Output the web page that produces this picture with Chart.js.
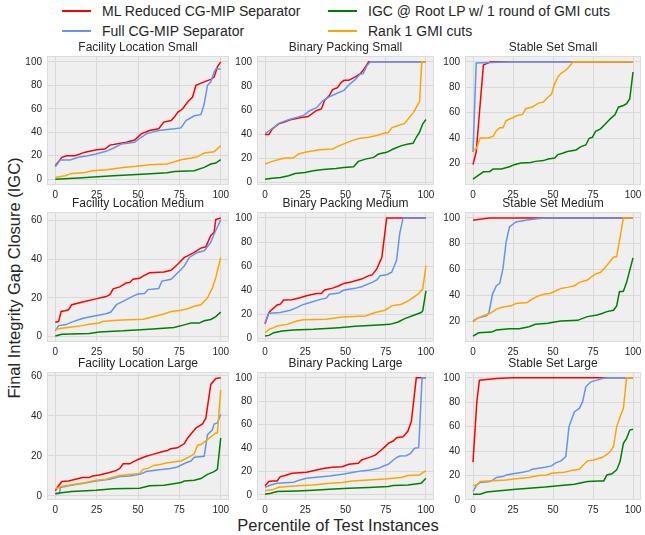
<!DOCTYPE html>
<html>
<head>
<meta charset="utf-8">
<script src="https://cdn.jsdelivr.net/npm/chart.js@4/dist/chart.umd.min.js"></script>
<style>
  body { margin: 0; width: 645px; height: 535px; background: #fff; position: relative; overflow: hidden;
         font-family: Arial, "Liberation Sans", sans-serif; color: #262626; }
  canvas { position: absolute; }
  .key { position: absolute; font-size: 14px; line-height: 16px; white-space: nowrap; transform: translateY(-50%); }
  .key i { display: inline-block; width: 29px; height: 2px; margin-right: 11px; vertical-align: middle; position: relative; top: -1px; }
  .axis-label { position: absolute; font-size: 16.5px; white-space: nowrap; transform: translate(-50%, -50%); }
  #ylabel { transform: translate(-50%, -50%) rotate(-90deg); }
</style>
</head>
<body>
<div id="legend"></div>
<div class="axis-label" id="xlabel" style="left:338px; top:525px;">Percentile of Test Instances</div>
<div class="axis-label" id="ylabel" style="left:14px; top:278px;">Final Integrity Gap Closure (IGC)</div>
<script>
// series: ML reduced separator, full separator, root LP + 1 round GMI, rank-1 GMI
const seriesNames = ['ML Reduced CG-MIP Separator', 'Full CG-MIP Separator', 'IGC @ Root LP w/ 1 round of GMI cuts', 'Rank 1 GMI cuts'];
const seriesColors = ['#ff0000', '#6495ed', '#008000', '#ffa500'];
const xTicks = [0, 25, 50, 75, 100];

// [percentile, IGC] per instance set
const flSmallMl = [[0,11.4],[4,18.6],[7,20],[12,20],[18,23],[25,25],[30,25.7],[33,29],[43,31.4],[48,33.4],[52,38.6],[57,41.4],[62.5,43],[65.6,48.6],[70,50],[72,52.9],[74,57],[77,60],[80,65.7],[83,70],[85,80],[90,82.9],[94,85],[96,87],[98,95.7],[100,100]];
const flSmallFull = [[0,10.6],[3,16.3],[9,16.3],[14,18.6],[19.5,20],[24.6,21.4],[30.7,23.7],[36,27],[40,30],[48,31.4],[52,35.7],[55,38.6],[62.5,41.4],[72,42.9],[76,43.7],[79,50],[84,54],[88,55],[90,64],[92,80],[94,83],[96,91.4],[97,94],[100,94]];
const flSmallRoot = [[0,0],[14,0.9],[35,2.9],[55,4.3],[67.6,5.4],[72,6.6],[84,7.1],[90,10],[94,12.9],[97,13.7],[100,16.6]];
const flSmallRank1 = [[0,1.4],[6,2.9],[10,4.9],[18,5.7],[22.5,7.1],[31,8],[41,10],[49,10.9],[57,12.3],[67.6,12.9],[76,16.6],[85,18.6],[90,22.3],[96,23.4],[100,28.6]];

const bpSmallMl = [[0,39.7],[2.4,39.7],[4.5,44.4],[8.5,48.6],[11.6,50],[15.7,52],[21.7,53.6],[26.8,54.7],[32,59.7],[35,61],[37,68],[40,72],[42,77],[45,78.6],[47,82.5],[49,84.7],[52,84.7],[56,87.5],[59,90],[61,93],[64.4,100],[100,100]];
const bpSmallFull = [[0,40.3],[5.5,45.8],[8.5,49],[14.6,52],[19.7,54],[24,55.6],[28,59.7],[32,62],[36,68],[40,71],[44,73.6],[49,76.4],[53,82],[56,85.3],[59,89.7],[61,90.3],[63.4,97],[65.4,100],[100,100]];
const bpSmallRoot = [[0,2.8],[4.5,3.6],[9.6,4.2],[14.6,5.6],[18.7,7.5],[24.8,8.3],[30,9.7],[36,10.8],[44,11.7],[49,12.5],[55,13],[58,17.5],[62.4,19.4],[67.5,20.8],[70.5,23.6],[75.6,25],[79.7,27.8],[84.8,30.6],[89,32],[92,32.5],[94,37.5],[96,41.7],[98,48.6],[100,52.2]];
const bpSmallRank1 = [[0,15.3],[4.5,17.5],[8.5,19],[12.6,20.3],[17.7,20.3],[20.7,23.6],[24.8,25],[30,26.4],[34,27.2],[42,27.8],[45,29.7],[49,32],[54,34.7],[59,36.7],[64.4,37.5],[69.5,38.9],[73.6,40.8],[76.6,41.4],[78.7,45.3],[82.7,47.2],[86.8,49],[89,52.8],[92,57.5],[95,64.7],[96,66.7],[97.4,100],[100,100]];

const ssSmallMl = [[0,19],[2,29],[6.5,97.5],[9.5,99.2],[11,100],[100,100]];
const ssSmallFull = [[0,29],[2,99.2],[25,100],[100,100]];
const ssSmallRoot = [[0,7.6],[2.4,9.7],[6.5,13.4],[10.6,13.7],[12.6,15.6],[17.7,15.6],[22.8,17.4],[25.8,19],[30,20.3],[36,20.8],[39,21.6],[44,22.2],[47,23.5],[51,24.3],[53,26.9],[56,28],[59,29.3],[64.4,30.6],[67.5,33.2],[70.5,34.5],[72.6,39.8],[74.6,40.6],[76.6,45.3],[79.7,47.2],[82.7,51.1],[85.8,55.1],[88.8,58.5],[90.9,64.3],[94,65.6],[96,67],[98,71],[100,92]];
const ssSmallRank1 = [[0,30.6],[2,31.4],[4.5,40],[9.5,40],[12.6,41.4],[14.6,45.8],[16.7,48],[18.7,48],[20.7,53.8],[24.8,56],[27.8,57.8],[31,58.6],[33,63.1],[37,64.4],[41,67.5],[44,68.3],[47,72.3],[49,74.4],[51,82.8],[53,88],[55,91],[58,93.4],[60,96],[62.5,100],[100,100]];

const flMediumMl = [[0,7.5],[2,7.8],[3.5,13],[6,13.4],[8,13.9],[10,16.5],[18.4,18.3],[24.6,19.5],[30.7,20.7],[33,21.7],[35,24.7],[39,25.7],[43,27.8],[45,28],[47,29.6],[51,30.1],[53,31.3],[57,33],[65.6,33.4],[70,34.3],[74,37.4],[78,40.9],[80,41.7],[84,43.5],[88,45.7],[91,46.4],[94,52.2],[96,53.9],[97,60.5],[100,61.3]];
const flMediumFull = [[0,3],[2,5.7],[6,6.1],[10,7.5],[14,8.7],[17.4,9.6],[24.6,10.8],[30.7,11.8],[33.6,12.7],[37,16.5],[43,19.1],[47,20.9],[50,22],[54,22.3],[56,24.3],[62.5,24.9],[64.5,28.7],[70,29.6],[74,33],[78,36.5],[81,40.9],[86,43.5],[90,44.3],[94,48.7],[96,53],[97,54.8],[100,60.3]];
const flMediumRoot = [[0,0.3],[4,1.2],[20.5,1.7],[26.6,2.4],[41,3],[49,3.5],[59,4],[71.7,4.7],[78,6.1],[82,7],[87,7],[90,8.2],[94,8.9],[97,10.4],[100,12.7]];
const flMediumRank1 = [[0,3.7],[4,4.3],[10,5],[16.4,5.7],[20.5,6.4],[26.6,7.1],[28.7,7.8],[37,8.5],[53,9],[59,10.3],[65.6,11.7],[70,13],[76,13.6],[80,14.4],[84,15.7],[88,16.5],[92,20],[95,25.2],[97,30.4],[100,40.9]];

const bpMediumMl = [[0,12.5],[2.4,21.7],[4.5,24.4],[7.5,28],[9.5,28.6],[11.6,32],[16.7,32.2],[21.7,34],[25.8,35.6],[32,37.5],[35,37.5],[37,40.3],[42,41.9],[46,43.9],[49,45.8],[54,47.2],[60,49.4],[64.4,52.2],[66.5,52.8],[69.5,57.8],[72.6,67.5],[75.6,100],[100,100]];
const bpMediumFull = [[0,13.3],[2.4,21.1],[9.5,21.7],[15.7,23.6],[19.7,25.8],[22.8,27.8],[28,30],[35,32.8],[38,33.6],[40,36.9],[46,37.8],[48,39.7],[50,40.6],[56,41.7],[60,43],[66.5,46.7],[69.5,48.6],[71.5,52.2],[75.6,53],[78.7,55],[81.7,64.7],[83.7,87],[85.8,100],[100,100]];
const bpMediumRoot = [[0,2.2],[2.4,2.8],[5.5,5],[10.6,6.4],[17.7,7.2],[30,7.8],[46,9.2],[56,10.3],[70.5,11.4],[77.6,11.9],[82.7,13.9],[86.8,16.7],[92.9,19.7],[97,21.7],[98,23],[100,39.7]];
const bpMediumRank1 = [[0,5],[2.4,7.8],[5.5,9.2],[7.5,10.6],[13.6,11.9],[19.7,14.7],[23.8,15.8],[38,16.1],[48,18],[62.4,18.9],[68.5,21.7],[74.6,23.6],[78.7,27.2],[84.8,28.6],[89.8,31.9],[95,36.9],[98,41.1],[100,60.6]];

const ssMediumMl = [[0,98.2],[7.5,99.5],[10.6,100],[100,100]];
const ssMediumFull = [[0,20],[3.5,22.6],[8.5,24],[10,26.6],[12.2,40.9],[14.6,47.4],[16.7,49.2],[18.7,60.4],[20.7,81.2],[22.8,93],[26.8,96.9],[33,98.2],[41,99.5],[47,100],[100,100]];
const ssMediumRoot = [[0,8.3],[3.5,10.9],[11.6,11.4],[14.6,13],[22.8,14],[29,14],[35,15.6],[39,17.4],[47,18.2],[51,19.2],[55,20],[65.4,20.5],[71.5,23.4],[77.6,24.7],[80.7,25.8],[83.7,27.3],[87.8,28.3],[89.8,31.7],[91.5,42.7],[94,43],[96,50],[100,69]];
const ssMediumRank1 = [[0,19.2],[2.4,22],[7.5,24.7],[10.6,25.8],[14.6,29.2],[17.7,30.5],[19.7,31],[23.8,31.8],[26.8,33.6],[34,34.4],[37,37],[41,39.6],[45,40.9],[48,41.4],[52,43.5],[55,45.3],[59,46.1],[63.4,47.4],[66.5,50],[71.5,51.8],[73.6,53.9],[76.6,56.5],[79.7,57.8],[81.7,60.4],[84.8,64.8],[87.8,69.5],[89.8,70],[94,100],[100,100]];

const flLargeMl = [[0,2.5],[2,5],[4,7.1],[8,7.4],[12.3,8.3],[16.4,9.1],[20.5,9.1],[22.5,9.9],[26.6,10.4],[32.8,11.6],[37,12.7],[39,13.7],[41,16],[45,16],[47,17],[51,18.5],[55,19.8],[59,20.7],[63.5,21.8],[67.6,22.6],[69.7,23.5],[73.8,24],[77.9,26],[80,28.9],[82,30.9],[85,33.9],[89,35.9],[91,38.8],[94,55.7],[97,58.7],[100,59]];
const flLargeFull = [[0,0.8],[2.7,1.2],[3,4.1],[8,5],[16.4,6.1],[24.6,7.4],[32.8,8.3],[39,9.6],[45,9.9],[51,10.7],[55,12.1],[61.5,12.9],[69.7,13.6],[73.8,14.4],[79,16.5],[82,17.4],[84,19.3],[90,19.8],[92,30.6],[95,33],[96,35.9],[98,36.4],[100,40.8]];
const flLargeRoot = [[0,1.2],[10,2.1],[24.6,2.8],[35,3.5],[51,3.8],[57,5],[65.6,5.3],[69.7,5.8],[76,6.6],[78,7.4],[84,7.8],[88,8.6],[92,10.7],[96,12.1],[98,13.2],[100,28.9]];
const flLargeRank1 = [[0,3.3],[3,4.5],[6,5],[14.3,6.1],[18.4,6.6],[24.6,7.8],[30.7,8.3],[39,10.2],[45,10.7],[51,11.2],[53,13.2],[56,13.7],[59.4,15.2],[63.5,15.7],[67.6,16.5],[76,17.4],[80,19],[84,21],[86,25.3],[88,25.6],[92,28.1],[97,31.4],[98,31.4],[100,52.9]];

const bpLargeMl = [[0,7.7],[2.4,11.4],[4.5,11.9],[7.5,11.9],[9.5,15.6],[12.6,16.5],[16.7,18.5],[25.8,19.3],[32,21.3],[37,22.7],[42,23.6],[48,24.1],[52,26.1],[58,27],[60,29.8],[64.4,31.8],[68.5,34],[71.5,37.5],[74.6,41.2],[76.6,44],[79.7,46],[81.7,48.9],[85.8,49.7],[88.8,54.5],[90.9,62.5],[94,100],[100,100]];
const bpLargeFull = [[0,6.5],[3.5,8.5],[7.5,9.9],[17.7,10.8],[21.7,12.8],[25.8,14.2],[32,15.1],[40,16.2],[48,17.6],[55,19.3],[60,20.5],[65.4,21.3],[70.5,22.7],[73.6,24.7],[76.6,26.1],[79.7,29.8],[81.7,31.8],[83.7,33.2],[87.8,33.5],[90.5,35.5],[92.9,39.8],[95.5,40.3],[97.6,100],[100,100]];
const bpLargeRoot = [[0,0.6],[3.5,1.4],[7.5,2.8],[19.7,3.4],[30,4],[40,4.8],[52,5.7],[64.4,6.3],[76.6,7.1],[79.7,8],[88.8,8.5],[97,9.9],[100,14.2]];
const bpLargeRank1 = [[0,3.7],[4.5,4.3],[8.5,6.5],[19.7,7.7],[30,8.5],[40,9.9],[48,10.5],[54,11.9],[64.4,12.8],[74.6,13.6],[84.8,14.8],[88.8,16.5],[96,17],[100,20.7]];

const ssLargeMl = [[0,30.8],[2.4,80.4],[4,98],[14.6,99.5],[25,100],[100,100]];
const ssLargeFull = [[0,6.8],[2.4,12.3],[4.5,14.2],[10.6,15],[12.6,16.3],[14.6,18.3],[18.7,19],[20.7,20.4],[25,21.3],[31,22.6],[35,23.7],[37,25],[41,25.9],[45,26.7],[49,27.8],[52,30.5],[55,31.9],[58,35.4],[60,60],[63.4,72.2],[66.5,74.9],[68.5,80.4],[70.5,92.6],[73.6,96.7],[77.6,98.1],[80.7,99.5],[83.7,100],[100,100]];
const ssLargeRoot = [[0,4.6],[4.5,4.6],[8.5,6.3],[16.7,7.4],[26.8,8.7],[35,9.5],[45,10.4],[55,11.7],[63.4,12.8],[71.5,15],[78.7,15.5],[81.7,15.5],[83.7,20.4],[86.8,21.3],[89.8,24.5],[91.9,31.3],[94,46.3],[96,50.4],[98,57.2],[100,57.8]];
const ssLargeRank1 = [[0,11.7],[2.4,12.3],[4.5,15],[9.5,15.5],[20.7,16.3],[26.8,17.2],[35,18.3],[41,19.9],[46,20.4],[49,21.8],[54,22.3],[57,22.6],[61.4,24],[66.5,25],[68.5,28],[71.5,31.9],[75.6,32.7],[78.7,34],[80.7,34.6],[83.7,37.3],[85.8,39.5],[87.8,43.6],[89.8,60],[91.9,68.1],[94,75],[96,100],[100,100]];

const panelTitles = [
  'Facility Location Small', 'Binary Packing Small', 'Stable Set Small',
  'Facility Location Medium', 'Binary Packing Medium', 'Stable Set Medium',
  'Facility Location Large', 'Binary Packing Large', 'Stable Set Large'
];
const panelSeries = [
  [flSmallMl, flSmallFull, flSmallRoot, flSmallRank1],
  [bpSmallMl, bpSmallFull, bpSmallRoot, bpSmallRank1],
  [ssSmallMl, ssSmallFull, ssSmallRoot, ssSmallRank1],
  [flMediumMl, flMediumFull, flMediumRoot, flMediumRank1],
  [bpMediumMl, bpMediumFull, bpMediumRoot, bpMediumRank1],
  [ssMediumMl, ssMediumFull, ssMediumRoot, ssMediumRank1],
  [flLargeMl, flLargeFull, flLargeRoot, flLargeRank1],
  [bpLargeMl, bpLargeFull, bpLargeRoot, bpLargeRank1],
  [ssLargeMl, ssLargeFull, ssLargeRoot, ssLargeRank1]
];

// grid geometry (plot areas in page pixels)
const colX = [47, 257, 465], colW = [182, 177, 176];
const rowY = [56, 212, 372], rowH = [129, 130, 128];
const AXIS_W = 34, TITLE_H = 18, XTICK_H = 16, PAD_R = 10;
const FONT = 'Arial, "Liberation Sans", sans-serif';
const TEXT = '#262626', GRID = '#d9d9d9', PANEL_BG = '#efefef';

Chart.defaults.font.family = FONT;

// figure legend, two columns
const legend = document.getElementById('legend');
const keyPos = [[62, 11], [62, 31], [328, 11], [328, 31]];
seriesNames.forEach((name, i) => {
  const el = document.createElement('div');
  el.className = 'key';
  el.style.left = keyPos[i][0] + 'px';
  el.style.top = keyPos[i][1] + 'px';
  el.innerHTML = `<i style="background:${seriesColors[i]}"></i>${name}`;
  legend.appendChild(el);
});

const panelFrame = {
  id: 'panelFrame',
  beforeDraw(chart) {
    const { ctx, chartArea: a } = chart;
    ctx.save();
    ctx.fillStyle = PANEL_BG;
    ctx.fillRect(a.left, a.top, a.width, a.height);
    ctx.restore();
  },
  afterDraw(chart) {
    const { ctx, chartArea: a } = chart;
    ctx.save();
    ctx.strokeStyle = '#dcdcdc';
    ctx.lineWidth = 1;
    ctx.strokeRect(Math.round(a.left) + 0.5, Math.round(a.top) + 0.5, Math.round(a.width) - 1, Math.round(a.height) - 1);
    ctx.restore();
  }
};

panelTitles.forEach((title, k) => {
  const r = Math.floor(k / 3), c = k % 3;
  const series = panelSeries[k];
  const canvas = document.createElement('canvas');
  canvas.width = colW[c] + AXIS_W + PAD_R;
  canvas.height = rowH[r] + TITLE_H + XTICK_H;
  canvas.style.left = (colX[c] - AXIS_W) + 'px';
  canvas.style.top = (rowY[r] - TITLE_H) + 'px';
  document.body.appendChild(canvas);

  // matplotlib-style 5% margins around the data
  const ys = series.flat().map(p => p[1]);
  const lo = Math.min(...ys), hi = Math.max(...ys);
  const yMin = lo - 0.05 * (hi - lo), yMax = hi + 0.05 * (hi - lo);
  const yTicks = [];
  for (let v = 0; v <= yMax; v += 20) if (v >= yMin) yTicks.push(v);

  new Chart(canvas, {
    type: 'line',
    data: {
      datasets: series.map((pts, i) => ({
        label: seriesNames[i],
        data: pts,
        borderColor: seriesColors[i],
        borderWidth: 1.5,
        pointRadius: 0,
        tension: 0,
        fill: false,
        order: 3 - i
      }))
    },
    options: {
      responsive: false,
      animation: false,
      devicePixelRatio: 1,
      layout: { padding: { left: 0, right: PAD_R, top: 0, bottom: 0 } },
      plugins: {
        legend: { display: false },
        tooltip: { enabled: false },
        title: {
          display: true, text: title, fullSize: false, color: TEXT,
          font: { size: 12, weight: 'normal' }, padding: { top: 2, bottom: 1.6 }
        }
      },
      scales: {
        x: {
          type: 'linear', min: -5, max: 105,
          afterBuildTicks: a => { a.ticks = xTicks.map(v => ({ value: v })); },
          afterFit: a => { a.height = XTICK_H; },
          grid: { color: GRID, drawTicks: false },
          border: { display: false },
          ticks: { color: TEXT, font: { size: 10 }, padding: 4, maxRotation: 0, autoSkip: false }
        },
        y: {
          type: 'linear', min: yMin, max: yMax,
          afterBuildTicks: a => { a.ticks = yTicks.map(v => ({ value: v })); },
          afterFit: a => { a.width = AXIS_W; },
          grid: { color: GRID, drawTicks: false },
          border: { display: false },
          ticks: { color: TEXT, font: { size: 10 }, padding: 5, autoSkip: false }
        }
      }
    },
    plugins: [panelFrame]
  });
});
</script>
</body>
</html>
